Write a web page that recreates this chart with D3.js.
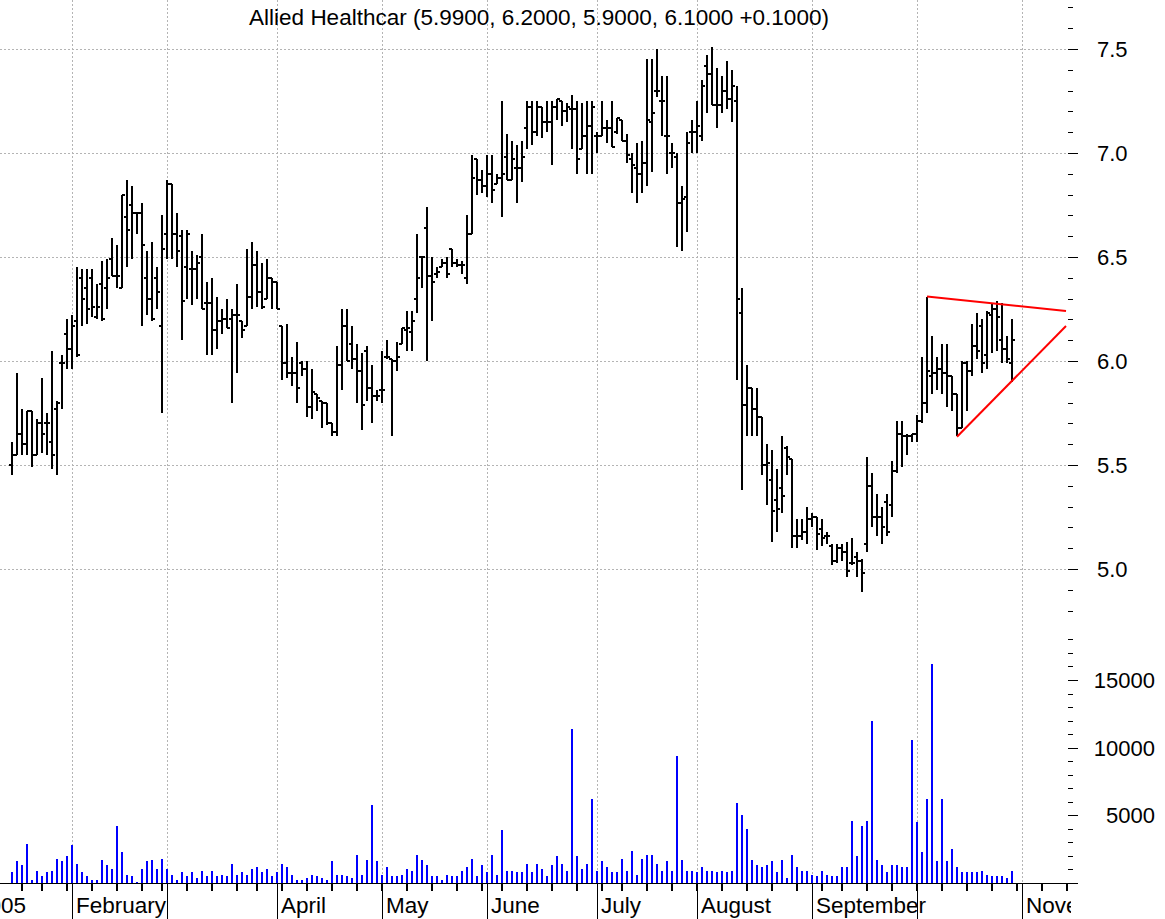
<!DOCTYPE html>
<html><head><meta charset="utf-8">
<script src="https://cdn.jsdelivr.net/npm/d3@7"></script>
<style>body{margin:0;background:#fff;} svg{display:block;} text{font-family:"Liberation Sans",Arial,sans-serif;fill:#000;}</style>
</head><body><svg id="c" width="1165" height="919"></svg>
<script>
const title = "Allied Healthcar (5.9900, 6.2000, 5.9000, 6.1000 +0.1000)";
const firstDay = "2005-01-03";
const holidays = ["2005-01-17","2005-02-21","2005-03-25","2005-05-30","2005-07-04","2005-09-05"];
const startIndex = 8;
const open = [5.50,5.55,5.65,5.60,5.76,5.55,5.70,5.70,5.61,5.77,5.99,6.13,6.06,6.19,6.40,6.35,6.40,6.21,6.37,6.35,6.49,6.41,6.35,6.69,6.75,6.71,6.71,6.40,6.30,6.40,6.17,6.61,6.85,6.61,6.60,6.45,6.44,6.44,6.50,6.28,6.28,6.15,6.19,6.20,6.20,6.22,6.19,6.17,6.31,6.46,6.33,6.30,6.40,6.38,6.17,5.99,5.94,5.94,5.99,5.96,5.78,5.84,5.81,5.80,5.70,5.66,5.98,6.17,6.08,6.01,5.95,6.05,5.87,5.83,5.86,6.02,6.01,6.00,6.08,6.15,6.14,6.30,6.50,6.64,6.41,6.42,6.45,6.47,6.54,6.47,6.46,6.40,6.61,6.97,6.87,6.84,6.90,6.85,6.88,6.98,6.87,6.93,6.93,7.12,7.22,7.10,7.22,7.15,7.15,7.22,7.25,7.20,7.21,7.21,7.02,7.08,7.13,7.08,7.08,7.12,7.12,7.10,7.16,7.06,6.97,6.93,6.90,6.95,7.15,7.30,7.25,7.08,7.00,6.98,6.76,6.79,7.10,7.10,7.08,7.42,7.38,7.23,7.23,7.30,7.26,7.25,6.23,5.79,5.87,5.77,5.73,5.50,5.43,5.33,5.39,5.58,5.53,5.16,5.16,5.18,5.24,5.25,5.19,5.16,5.11,5.04,5.10,5.08,5.03,5.06,5.04,5.12,5.40,5.25,5.25,5.32,5.31,5.47,5.65,5.64,5.64,5.65,5.71,5.80,5.93,5.94,5.96,5.94,5.93,5.84,5.68,5.99,5.95,6.07,6.17,6.03,6.22,6.25,6.10,6.06,5.99];
const high = [5.61,5.94,5.77,5.76,5.76,5.72,5.92,5.75,6.05,5.81,6.03,6.20,6.22,6.45,6.44,6.44,6.44,6.37,6.48,6.49,6.59,6.56,6.80,6.87,6.84,6.71,6.76,6.53,6.57,6.45,6.70,6.87,6.85,6.71,6.63,6.63,6.53,6.51,6.61,6.38,6.40,6.31,6.25,6.30,6.25,6.37,6.19,6.54,6.57,6.53,6.47,6.49,6.40,6.38,6.17,6.18,6.02,6.09,6.00,6.00,5.96,5.84,5.81,5.80,5.70,6.07,6.25,6.25,6.17,6.08,6.04,6.07,5.98,5.86,6.05,6.10,6.01,6.09,6.16,6.24,6.24,6.61,6.50,6.74,6.50,6.45,6.49,6.50,6.54,6.49,6.48,6.70,6.99,6.97,6.92,6.99,6.99,6.90,7.25,7.09,7.06,7.04,7.06,7.25,7.25,7.25,7.22,7.25,7.25,7.26,7.25,7.24,7.28,7.25,7.24,7.25,7.25,7.10,7.25,7.16,7.25,7.17,7.16,7.09,7.00,7.05,7.06,7.45,7.45,7.50,7.37,7.37,7.05,7.00,6.84,7.10,7.16,7.25,7.35,7.47,7.51,7.41,7.37,7.44,7.40,7.32,6.35,5.98,5.87,5.87,5.73,5.60,5.57,5.48,5.64,5.59,5.53,5.24,5.24,5.30,5.27,5.25,5.24,5.18,5.12,5.12,5.12,5.13,5.15,5.08,5.05,5.54,5.46,5.36,5.30,5.36,5.52,5.71,5.71,5.65,5.65,5.74,6.02,6.31,6.12,6.02,6.08,6.08,5.93,5.84,6.00,6.00,6.18,6.23,6.20,6.24,6.28,6.29,6.28,6.12,6.20];
const low = [5.45,5.55,5.55,5.55,5.49,5.55,5.56,5.55,5.48,5.45,5.77,5.96,5.96,6.02,6.17,6.18,6.21,6.20,6.19,6.25,6.41,6.35,6.35,6.45,6.49,6.61,6.17,6.22,6.19,6.25,5.75,6.49,6.49,6.45,6.10,6.30,6.27,6.30,6.25,6.03,6.03,6.06,6.13,6.16,5.80,5.94,6.11,6.17,6.25,6.26,6.25,6.30,6.25,6.25,5.91,5.92,5.88,5.80,5.93,5.73,5.72,5.76,5.68,5.69,5.64,5.64,5.86,6.00,5.96,5.80,5.67,5.81,5.70,5.81,5.80,6.01,5.64,5.95,6.08,6.05,6.05,6.23,6.35,6.00,6.19,6.40,6.45,6.40,6.45,6.45,6.42,6.37,6.61,6.80,6.81,6.79,6.76,6.85,6.69,6.87,6.87,6.76,6.86,7.02,7.04,7.08,7.07,7.10,6.94,7.16,7.13,7.15,7.02,6.90,7.02,6.90,6.90,7.00,7.08,7.05,7.03,7.09,7.06,6.95,6.81,6.76,6.81,6.84,6.91,7.27,7.08,6.90,6.93,6.55,6.53,6.62,7.00,7.00,7.06,7.19,7.23,7.12,7.19,7.21,7.15,5.91,5.38,5.64,5.64,5.64,5.45,5.31,5.13,5.18,5.27,5.45,5.10,5.10,5.14,5.12,5.20,5.09,5.11,5.12,5.02,5.03,5.04,4.96,5.02,4.96,4.89,5.08,5.20,5.16,5.12,5.16,5.25,5.46,5.49,5.55,5.61,5.61,5.70,5.75,5.84,5.86,5.84,5.78,5.76,5.64,5.68,5.76,5.93,6.01,5.94,5.96,6.04,6.05,5.99,5.99,5.90];
const close = [5.55,5.65,5.60,5.76,5.55,5.70,5.65,5.70,5.55,5.80,5.99,6.06,6.17,6.03,6.30,6.25,6.26,6.26,6.20,6.40,6.41,6.41,6.80,6.63,6.71,6.71,6.56,6.30,6.20,6.33,6.54,6.85,6.61,6.53,6.29,6.61,6.44,6.47,6.25,6.28,6.15,6.19,6.20,6.16,6.22,6.22,6.15,6.31,6.46,6.33,6.26,6.40,6.38,6.25,5.99,5.94,5.94,5.87,5.96,5.78,5.85,5.82,5.80,5.70,5.66,5.98,6.17,6.00,6.01,5.95,5.79,5.87,5.83,5.83,5.86,6.02,6.00,6.02,6.16,6.16,6.19,6.40,6.50,6.41,6.38,6.43,6.47,6.42,6.47,6.46,6.46,6.61,6.88,6.87,6.84,6.90,6.82,6.88,6.90,6.87,6.97,6.93,6.98,7.22,7.10,7.22,7.15,7.15,7.22,7.26,7.20,7.22,7.21,6.97,7.08,7.13,7.22,7.08,7.12,7.12,7.03,7.17,7.06,6.99,6.94,6.90,6.95,7.16,7.19,7.30,7.25,7.08,7.00,6.76,6.78,7.05,7.10,7.13,7.32,7.38,7.23,7.23,7.30,7.26,7.32,6.30,5.79,5.87,5.77,5.73,5.50,5.51,5.28,5.29,5.35,5.54,5.16,5.16,5.18,5.24,5.25,5.17,5.15,5.16,5.04,5.10,5.08,4.99,5.03,5.04,4.98,5.40,5.25,5.25,5.20,5.18,5.47,5.65,5.64,5.64,5.65,5.71,5.80,5.95,5.94,5.96,5.94,5.93,5.84,5.68,5.99,5.95,6.07,6.05,5.99,6.23,6.25,6.21,6.06,6.01,6.10];
const volume = [800,1600,1300,2900,200,900,500,800,900,1800,1600,2000,2800,1400,800,500,200,200,1700,1300,1000,4200,2300,600,500,100,1000,1600,1700,1000,1800,1000,600,200,800,500,800,400,900,500,900,500,600,500,1400,600,800,600,1000,1200,800,1000,500,800,1400,1200,600,200,200,400,600,500,400,200,1600,600,600,500,400,2100,600,1700,5800,1600,600,1200,500,500,600,1000,900,2100,1700,1300,500,500,200,600,500,500,900,1200,1800,500,1300,800,2100,600,3900,900,900,800,800,1400,800,1400,1000,500,1300,2000,1400,900,11400,2000,1000,1400,6200,900,1600,1200,800,800,1800,900,2400,600,1800,2100,2100,1400,900,1600,900,9400,1700,900,900,800,1200,900,900,800,900,800,900,5900,5000,4000,1700,1300,1200,1300,1600,800,1700,400,2100,1200,900,900,600,500,900,600,500,500,1200,1200,4600,2000,4200,4600,12000,1700,1300,800,1300,1300,1200,1200,10600,4500,2300,6200,16200,1600,6200,1600,2500,1200,800,800,800,800,900,600,500,500,500,400,900];
const priceTicks = [5.0,5.5,6.0,6.5,7.0,7.5];
const priceTickLabels = ["5.0","5.5","6.0","6.5","7.0","7.5"];
const volumeTicks = [5000,10000,15000];
const volumeTickLabels = ["5000","10000","15000"];
const monthLabels = ["2005","February","","April","May","June","July","August","September","","November"];
const trendTop = [[191,6.31],[218.8,6.24]];
const trendBottom = [[197,5.636],[218.8,6.168]];

// trading calendar
const hol = new Set(holidays);
const days = [];
{
  let d = new Date(firstDay + "T12:00:00Z");
  while (days.length < 240) {
    const dow = d.getUTCDay();
    const s = d.toISOString().slice(0,10);
    if (dow !== 0 && dow !== 6 && !hol.has(s)) days.push(d);
    d = new Date(d.getTime() + 86400000);
  }
}
const bars = open.map((o,k) => ({i: startIndex + k, o, h: high[k], l: low[k], c: close[k], v: volume[k]}));

const svg = d3.select("#c");
const x = d3.scaleLinear().domain([0, 219]).range([-28, 1067]);
const y = d3.scaleLinear().domain([5, 7.5]).range([569, 49]);
const yv = d3.scaleLinear().domain([0, 15000]).range([883, 680]);
const plotRight = 1067;

svg.append("defs").append("clipPath").attr("id", "xclip")
  .append("rect").attr("x", 0).attr("y", 880).attr("width", 1071).attr("height", 40);

// month starts & week starts
const monthStarts = [], weekStarts = [];
days.forEach((d,i) => {
  if (i === 0 || d.getUTCMonth() !== days[i-1].getUTCMonth()) monthStarts.push(i);
  if (i === 0 || d.getUTCDay() <= days[i-1].getUTCDay()) weekStarts.push(i);
});
const visMonths = monthStarts.filter(i => x(i) <= 1070);
const visWeeks = weekStarts.filter(i => x(i) >= 0 && x(i) <= 1070);

// grid
const grid = svg.append("g").attr("stroke", "#b4b4b4").attr("stroke-width", 1).attr("stroke-dasharray", "2,2");
grid.selectAll("line.h").data(priceTicks).join("line")
  .attr("x1", 0).attr("x2", plotRight).attr("y1", d => Math.round(y(d)) + 0.5).attr("y2", d => Math.round(y(d)) + 0.5);
grid.selectAll("line.v").data(visMonths).join("line")
  .attr("x1", d => Math.round(x(d)) + 0.5).attr("x2", d => Math.round(x(d)) + 0.5).attr("y1", 0).attr("y2", 883);

// title
svg.append("text").attr("x", 539).attr("y", 25).attr("text-anchor", "middle")
  .style("font-size", "22.5px").text(title);

// OHLC bars
const ob = svg.append("g").attr("stroke", "#000").attr("stroke-width", 2).attr("shape-rendering", "crispEdges");
ob.selectAll("line.v").data(bars).join("line")
  .attr("x1", d => Math.round(x(d.i))).attr("x2", d => Math.round(x(d.i)))
  .attr("y1", d => y(d.h)).attr("y2", d => y(d.l));
ob.selectAll("line.o").data(bars).join("line")
  .attr("x1", d => Math.round(x(d.i)) - 3).attr("x2", d => Math.round(x(d.i)))
  .attr("y1", d => Math.round(y(d.o))).attr("y2", d => Math.round(y(d.o)));
ob.selectAll("line.c").data(bars).join("line")
  .attr("x1", d => Math.round(x(d.i))).attr("x2", d => Math.round(x(d.i)) + 3)
  .attr("y1", d => Math.round(y(d.c))).attr("y2", d => Math.round(y(d.c)));

// trendlines
const tl = d3.line().x(d => x(d[0])).y(d => y(d[1]));
[trendTop, trendBottom].forEach(t => svg.append("path").attr("d", tl(t)).attr("fill", "none").attr("stroke", "#ff0000").attr("stroke-width", 2));

// volume
svg.append("g").attr("fill", "#0000ff").attr("shape-rendering", "crispEdges")
  .selectAll("rect").data(bars).join("rect")
  .attr("x", d => Math.round(x(d.i)) - 1).attr("width", 2)
  .attr("y", d => yv(d.v)).attr("height", d => yv(0) - yv(d.v));

// bottom axis
const ax = svg.append("g").attr("shape-rendering", "crispEdges");
ax.append("line").attr("x1", 0).attr("x2", 1070).attr("y1", 883.5).attr("y2", 883.5).attr("stroke", "#000");
ax.selectAll("line.w").data(visWeeks).join("line")
  .attr("x1", d => Math.round(x(d))).attr("x2", d => Math.round(x(d)))
  .attr("y1", 884).attr("y2", 891).attr("stroke", "#000").attr("stroke-width", 2);
ax.selectAll("line.m").data(visMonths.filter(i => x(i) >= 0)).join("line")
  .attr("x1", d => Math.round(x(d)) + 0.5).attr("x2", d => Math.round(x(d)) + 0.5)
  .attr("y1", 884).attr("y2", 919).attr("stroke", "#000").attr("stroke-width", 1.5);
svg.append("g").attr("clip-path", "url(#xclip)")
  .selectAll("text").data(monthStarts.slice(0, monthLabels.length).map((i,k) => ({i, t: monthLabels[k]})).filter(d => d.t)).join("text")
  .attr("x", d => x(d.i) + 4).attr("y", 913).style("font-size", "22.5px").text(d => d.t);

// right axes
const ra = svg.append("g").attr("shape-rendering", "crispEdges").attr("stroke", "#000");
const minorP = d3.range(48, 78).map(v => v / 10);
ra.selectAll("line.pm").data(minorP).join("line")
  .attr("x1", 1068).attr("x2", d => (Math.abs(d * 2 - Math.round(d * 2)) < 1e-6) ? 1078 : 1073)
  .attr("y1", d => Math.round(y(d)) + 0.5).attr("y2", d => Math.round(y(d)) + 0.5);
const minorV = d3.range(0, 19000, 1000);
ra.selectAll("line.vm").data(minorV).join("line")
  .attr("x1", 1068).attr("x2", d => d % 5000 === 0 ? 1078 : 1073)
  .attr("y1", d => Math.round(yv(d)) + 0.5).attr("y2", d => Math.round(yv(d)) + 0.5);
svg.selectAll("text.pl").data(priceTicks).join("text").attr("class", "pl")
  .attr("x", 1097).attr("y", d => y(d) + 8).style("font-size", "22px").text((d,k) => priceTickLabels[k]);
svg.selectAll("text.vl").data(volumeTicks).join("text").attr("class", "vl")
  .attr("x", 1155).attr("text-anchor", "end").attr("y", d => yv(d) + 8).style("font-size", "22px").text((d,k) => volumeTickLabels[k]);
</script></body></html>
